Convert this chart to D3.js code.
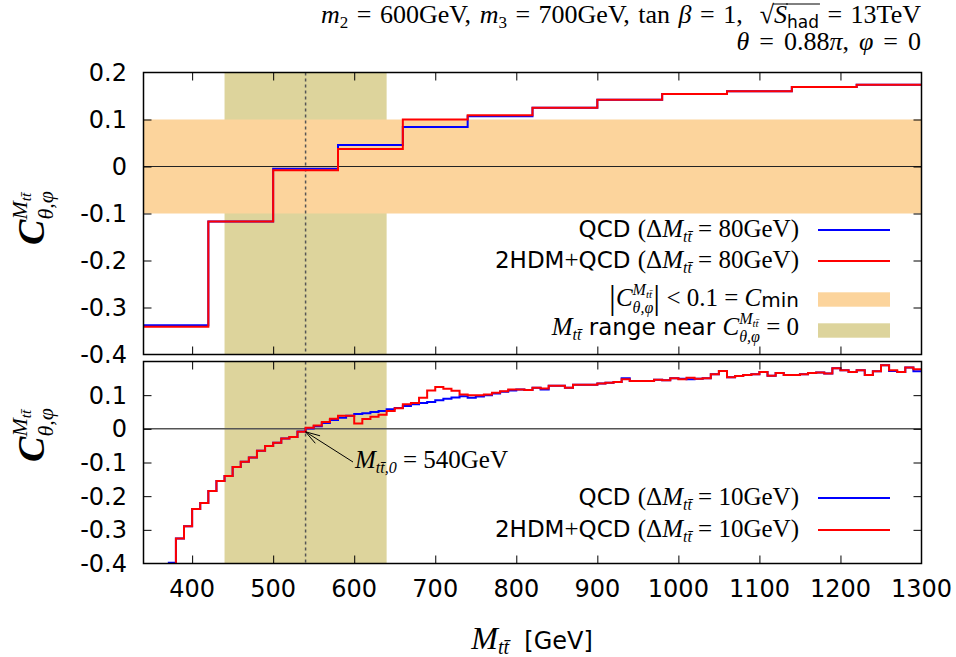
<!DOCTYPE html>
<html>
<head>
<meta charset="utf-8">
<script src="https://cdn.jsdelivr.net/npm/d3@7"></script>
<style>
  body { margin: 0; background: #fff; }
  text { white-space: pre; }
</style>
</head>
<body>
<div id="chart-area"></div>
<script>
// ---- data ----
var topEdges = [340, 420, 500, 580, 660, 740, 820, 900, 980, 1060, 1140, 1220, 1300];
var topQCD  = [-0.338, -0.117, -0.005, 0.046, 0.084, 0.107, 0.125, 0.142, 0.154, 0.160, 0.169, 0.174];
var top2HDM = [-0.341, -0.117, -0.008, 0.037, 0.100, 0.109, 0.125, 0.142, 0.154, 0.160, 0.169, 0.174];

// 10 GeV bins, starting at 370 GeV
var botStart = 370, botWidth = 10, botEnd = 1300;
var botQCD = [-0.398, -0.326, -0.289, -0.238, -0.220, -0.185, -0.155, -0.140, -0.113, -0.098,
  -0.085, -0.065, -0.051, -0.041, -0.029, -0.024, -0.008, 0.001, 0.008, 0.017,
  0.026, 0.033, 0.039, 0.044, 0.046, 0.050, 0.053, 0.058, 0.062, 0.068,
  0.073, 0.077, 0.080, 0.085, 0.089, 0.093, 0.097, 0.092, 0.096, 0.100,
  0.105, 0.110, 0.114, 0.117, 0.115, 0.122, 0.117, 0.128, 0.128, 0.122,
  0.131, 0.131, 0.131, 0.135, 0.137, 0.139, 0.150, 0.142, 0.142, 0.142,
  0.146, 0.144, 0.150, 0.149, 0.147, 0.149, 0.150, 0.162, 0.172, 0.153,
  0.157, 0.160, 0.162, 0.169, 0.158, 0.166, 0.160, 0.160, 0.162, 0.166,
  0.167, 0.164, 0.180, 0.174, 0.169, 0.174, 0.160, 0.171, 0.189, 0.172,
  0.169, 0.182, 0.171];
var bot2HDM = [-0.41, -0.326, -0.289, -0.238, -0.220, -0.185, -0.155, -0.140, -0.113, -0.098,
  -0.085, -0.065, -0.051, -0.041, -0.029, -0.024, -0.009, 0.003, 0.010, 0.020,
  0.030, 0.039, 0.039, 0.016, 0.029, 0.036, 0.042, 0.053, 0.061, 0.073,
  0.077, 0.092, 0.114, 0.124, 0.119, 0.113, 0.102, 0.100, 0.100, 0.102,
  0.107, 0.112, 0.117, 0.117, 0.115, 0.122, 0.120, 0.128, 0.128, 0.122,
  0.131, 0.131, 0.131, 0.135, 0.137, 0.139, 0.147, 0.142, 0.142, 0.142,
  0.146, 0.144, 0.150, 0.147, 0.152, 0.149, 0.150, 0.162, 0.172, 0.153,
  0.157, 0.160, 0.162, 0.169, 0.158, 0.166, 0.160, 0.160, 0.162, 0.166,
  0.167, 0.164, 0.180, 0.174, 0.169, 0.174, 0.160, 0.171, 0.189, 0.174,
  0.169, 0.182, 0.177];

var xTicks = [400, 500, 600, 700, 800, 900, 1000, 1100, 1200, 1300];
var yTicks = [-0.4, -0.3, -0.2, -0.1, 0, 0.1, 0.2];
var botYLabels = [-0.4, -0.3, -0.2, -0.1, 0, 0.1];
var cminBand = [-0.1, 0.1];
var nearZeroRange = [440, 640];
var mZero = 540;

var SERIF = "'Liberation Serif', 'DejaVu Serif', serif";
var SANS = "'DejaVu Sans', sans-serif";
var TT = "tt\u0304";

var svg = d3.select("#chart-area").append("svg")
    .attr("width", 956).attr("height", 657);
svg.append("rect").attr("width", 956).attr("height", 657).attr("fill", "#fff");

var x = d3.scaleLinear().domain([340, 1300]).range([143.5, 921.5]);
var yTop = d3.scaleLinear().domain([-0.4, 0.2]).range([354.5, 72.5]);
var yBot = d3.scaleLinear().domain([-0.4, 0.2]).range([563.5, 361.5]);

// rich text: segments laid out one after another, measured in the browser
function rich(g, segs, anchor) {
    var grp = g.append("g");
    var cx = 0, marked = 0;
    segs.forEach(function(s) {
        var startX = s.back ? marked : cx;
        if (s.mark) marked = startX;
        var t = grp.append("text")
            .attr("x", startX).attr("y", s.dy || 0)
            .style("font-family", s.f === "sans" ? SANS : SERIF)
            .style("font-size", s.s + "px")
            .style("font-style", s.i ? "italic" : "normal")
            .style("font-weight", s.w || "normal")
            .style("word-spacing", (s.ws || 0) + "px")
            .attr("fill", "#000")
            .text(s.t);
        var w = t.node().getComputedTextLength();
        if (s.over !== undefined) {
            grp.append("line").attr("x1", startX - 1).attr("x2", startX + w + 1)
                .attr("y1", s.over).attr("y2", s.over)
                .attr("stroke", "#000").attr("stroke-width", 1);
        }
        var end = startX + w;
        cx = s.back ? Math.max(cx, end) : end;
    });
    var shift = anchor === "end" ? -cx : anchor === "middle" ? -cx / 2 : 0;
    grp.selectAll("*").attr("transform", "translate(" + shift + ",0)");
    return grp;
}
function place(sel, tx, ty, rot) {
    sel.attr("transform", "translate(" + tx + "," + ty + ")" + (rot ? " rotate(" + rot + ")" : ""));
    return sel;
}

// step points from bin edges/values
function stepPoints(edges, vals) {
    var pts = vals.map(function(v, i) { return [edges[i], v]; });
    pts.push([edges[edges.length - 1], vals[vals.length - 1]]);
    return pts;
}
var botEdges = d3.range(botStart, botEnd + 0.5, botWidth);

var defs = svg.append("defs");
defs.append("clipPath").attr("id", "clipTop").append("rect")
    .attr("x", x.range()[0]).attr("y", yTop.range()[1])
    .attr("width", x.range()[1] - x.range()[0]).attr("height", yTop.range()[0] - yTop.range()[1]);
defs.append("clipPath").attr("id", "clipBot").append("rect")
    .attr("x", x.range()[0]).attr("y", yBot.range()[1])
    .attr("width", x.range()[1] - x.range()[0]).attr("height", yBot.range()[0] - yBot.range()[1]);

var ORANGE = "#fcd49c", OLIVE = "#ddd49c";
var fmt = function(d) { return Math.abs(d) < 1e-9 ? "0" : String(+d.toFixed(1)); };

function panel(y, clipId, qcd, hdm, edges, withOrange, labelVals) {
    var g = svg.append("g");
    var c = g.append("g").attr("clip-path", "url(#" + clipId + ")");
    c.append("rect").attr("x", x(nearZeroRange[0])).attr("y", y.range()[1])
        .attr("width", x(nearZeroRange[1]) - x(nearZeroRange[0]))
        .attr("height", y.range()[0] - y.range()[1]).attr("fill", OLIVE);
    if (withOrange) {
        c.append("rect").attr("x", x.range()[0]).attr("y", y(cminBand[1]))
            .attr("width", x.range()[1] - x.range()[0])
            .attr("height", y(cminBand[0]) - y(cminBand[1])).attr("fill", ORANGE);
    }
    c.append("line").attr("x1", x.range()[0]).attr("x2", x.range()[1])
        .attr("y1", y(0)).attr("y2", y(0))
        .attr("stroke", withOrange ? "#222" : "#555").attr("stroke-width", withOrange ? 1 : 1.5);
    c.append("line").attr("x1", x(mZero)).attr("x2", x(mZero))
        .attr("y1", y.range()[1]).attr("y2", y.range()[0])
        .attr("stroke", "#555").attr("stroke-width", 1.5).attr("stroke-dasharray", "3,3");

    var line = d3.line().x(function(d) { return x(d[0]); }).y(function(d) { return y(d[1]); })
        .curve(d3.curveStepAfter);
    c.append("path").attr("d", line(stepPoints(edges, qcd)))
        .attr("fill", "none").attr("stroke", "#0000ff").attr("stroke-width", 2);
    c.append("path").attr("d", line(stepPoints(edges, hdm)))
        .attr("fill", "none").attr("stroke", "#ff0000").attr("stroke-width", 2);

    // inward ticks
    var tickVals = xTicks.filter(function(v) { return v < 1300; });
    g.append("g").attr("transform", "translate(0," + y.range()[0] + ")")
        .call(d3.axisBottom(x).tickValues(tickVals).tickSize(-8).tickFormat(""));
    g.append("g").attr("transform", "translate(0," + y.range()[1] + ")")
        .call(d3.axisTop(x).tickValues(tickVals).tickSize(-8).tickFormat(""));
    var inner = yTicks.filter(function(v) { return v > -0.35 && v < 0.15; });
    g.append("g").attr("transform", "translate(" + x.range()[0] + ",0)")
        .call(d3.axisLeft(y).tickValues(inner).tickSize(-8).tickFormat(""));
    g.append("g").attr("transform", "translate(" + x.range()[1] + ",0)")
        .call(d3.axisRight(y).tickValues(inner).tickSize(-8).tickFormat(""));
    g.selectAll(".domain").remove();
    g.selectAll(".tick line").attr("stroke", "#000").attr("stroke-width", 1);

    g.selectAll(".ylab").data(labelVals).enter().append("text")
        .attr("x", 127).attr("y", function(d) { return y(d) + 8.5; })
        .attr("text-anchor", "end")
        .style("font-family", SANS).style("font-size", "24px")
        .text(fmt);

    g.append("rect").attr("x", x.range()[0]).attr("y", y.range()[1])
        .attr("width", x.range()[1] - x.range()[0]).attr("height", y.range()[0] - y.range()[1])
        .attr("fill", "none").attr("stroke", "#000").attr("stroke-width", 1.5);
    return g;
}

panel(yTop, "clipTop", topQCD, top2HDM, topEdges, true, yTicks);
panel(yBot, "clipBot", botQCD, bot2HDM, botEdges, false, botYLabels);

// x tick labels
svg.selectAll(".xlab").data(xTicks).enter().append("text")
    .attr("x", function(d) { return x(d); }).attr("y", 597)
    .attr("text-anchor", "middle")
    .style("font-family", SANS).style("font-size", "24px")
    .text(function(d) { return d; });

// axis titles
place(rich(svg, [
    {t: "M", s: 32, i: true}, {t: TT, s: 20, i: true, dy: 5},
    {t: "  [GeV]", f: "sans", s: 24}
], "middle"), 532, 649);

function cLabel(cy) {
    place(rich(svg, [
        {t: "C", s: 38, i: true, w: "bold"},
        {t: "M", s: 22, i: true, dy: -17, mark: true},
        {t: TT, s: 15, i: true, dy: -13},
        {t: "\u03B8,\u03C6", s: 22, i: true, dy: 9, back: true}
    ], "middle"), 44, cy, -90);
}
cLabel(218);
cLabel(435);

// title
var TS = 26, TW = 2;
place(rich(svg, [
    {t: "m", s: TS, i: true}, {t: "2", s: 17, dy: 5},
    {t: " = 600GeV, ", s: TS, ws: TW},
    {t: "m", s: TS, i: true}, {t: "3", s: 17, dy: 5},
    {t: " = 700GeV, tan ", s: TS, ws: TW}, {t: "\u03B2", s: TS, i: true},
    {t: " = 1,  \u221A", s: TS, ws: TW},
    {t: "S", s: TS, i: true, over: -19}, {t: "had", f: "sans", s: 17, dy: 5, over: -19},
    {t: " = 13TeV", s: TS, ws: TW}
], "end"), 921, 23);
place(rich(svg, [
    {t: "\u03B8", s: TS, i: true}, {t: " = 0.88", s: TS, ws: 3.5}, {t: "\u03C0", s: TS, i: true},
    {t: ", ", s: TS, ws: 3.5}, {t: "\u03C6", s: TS, i: true}, {t: " = 0", s: TS, ws: 3.5}
], "end"), 921, 50);

// legends
function deltaM(label, gev) {
    return label.concat([
        {t: "(\u0394", s: 25}, {t: "M", s: 25, i: true}, {t: TT, s: 16, i: true, dy: 5},
        {t: " = " + gev + "GeV)", s: 25}
    ]);
}
var qcdLab = [{t: "QCD ", f: "sans", s: 23}];
var hdmLab = [{t: "2HDM", f: "sans", s: 23}, {t: "+", s: 25}, {t: "QCD ", f: "sans", s: 23}];
function cSym() {
    return [{t: "C", s: 25, i: true},
        {t: "M", s: 16, i: true, dy: -11, mark: true}, {t: TT, s: 11, i: true, dy: -8},
        {t: "\u03B8,\u03C6", s: 16, i: true, dy: 7, back: true}];
}

function legendLine(y, color) {
    svg.append("line").attr("x1", 818).attr("x2", 890).attr("y1", y).attr("y2", y)
        .attr("stroke", color).attr("stroke-width", 2);
}
function legendBox(y, color) {
    svg.append("rect").attr("x", 818).attr("y", y - 7.2).attr("width", 72).attr("height", 14.4)
        .attr("fill", color);
}

place(rich(svg, deltaM(qcdLab, 80), "end"), 799, 237);
legendLine(230, "#0000ff");
place(rich(svg, deltaM(hdmLab, 80), "end"), 799, 268);
legendLine(261, "#ff0000");
place(rich(svg, [{t: "|", s: 34, dy: 3}].concat(cSym(), [
    {t: "|", s: 34, dy: 3}, {t: " < 0.1 = ", s: 25}, {t: "C", s: 25, i: true},
    {t: "min", f: "sans", s: 20, dy: 1}
]), "end"), 799, 306);
legendBox(299.5, ORANGE);
place(rich(svg, [{t: "M", s: 25, i: true}, {t: TT, s: 16, i: true, dy: 5},
    {t: " range near ", f: "sans", s: 23}].concat(cSym(), [{t: " = 0", s: 25}]), "end"), 799, 335);
legendBox(330.5, OLIVE);

place(rich(svg, deltaM(qcdLab, 10), "end"), 799, 505);
legendLine(498, "#0000ff");
place(rich(svg, deltaM(hdmLab, 10), "end"), 799, 537);
legendLine(530, "#ff0000");

// annotation arrow to M_tt,0
var tip = [x(mZero), yBot(0) + 3], tail = [353, 462];
svg.append("line").attr("x1", tail[0]).attr("y1", tail[1]).attr("x2", tip[0]).attr("y2", tip[1])
    .attr("stroke", "#000").attr("stroke-width", 1);
var ang = Math.atan2(tail[1] - tip[1], tail[0] - tip[0]);
[-0.3, 0.3].forEach(function(da) {
    svg.append("line").attr("x1", tip[0]).attr("y1", tip[1])
        .attr("x2", tip[0] + 15 * Math.cos(ang + da)).attr("y2", tip[1] + 15 * Math.sin(ang + da))
        .attr("stroke", "#000").attr("stroke-width", 1);
});
place(rich(svg, [{t: "M", s: 25, i: true}, {t: TT + ",0", s: 16, i: true, dy: 5},
    {t: " = 540GeV", s: 25}], "start"), 355, 468);
</script>
</body>
</html>
